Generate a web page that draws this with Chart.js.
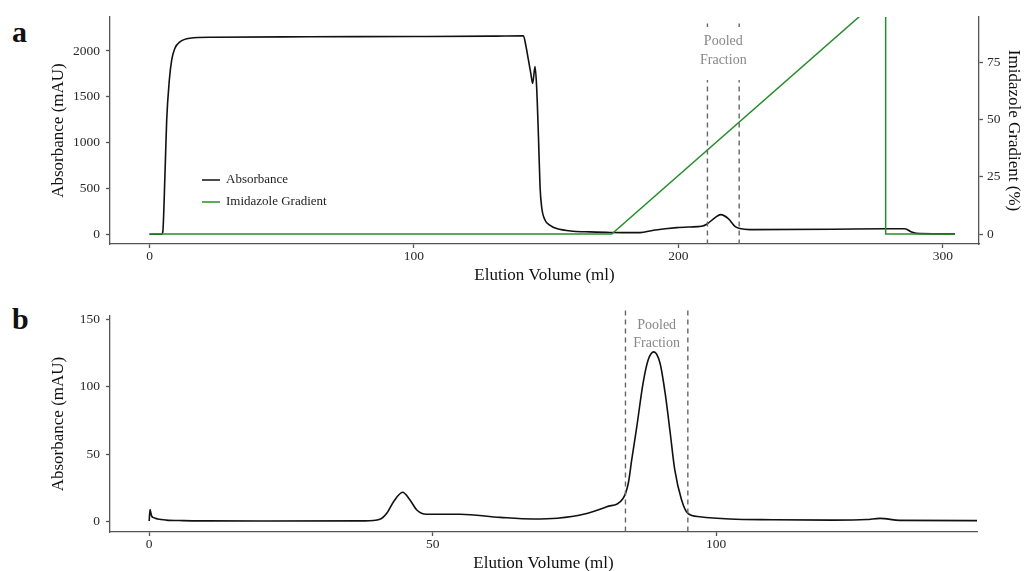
<!DOCTYPE html>
<html>
<head>
<meta charset="utf-8">
<script src="https://cdn.jsdelivr.net/npm/chart.js@4.4.1/dist/chart.umd.min.js"></script>
<style>
    html, body { margin: 0; padding: 0; background: #fff; overflow: hidden; }
    body { width: 1024px; height: 571px; position: relative; }
    .panel { position: absolute; left: 0; width: 1024px; }
    #wrap-a { top: 0; height: 286px; }
    #wrap-b { top: 286px; height: 288px; }
    .tag { position: absolute; font: bold 30px/30px "Liberation Serif", serif; color: #111; }
</style>
</head>
<body>
<div class="tag" style="left:12px;top:17px">a</div>
<div class="tag" style="left:12px;top:304px">b</div>
<div class="panel" id="wrap-a"><canvas id="chart-a"></canvas></div>
<div class="panel" id="wrap-b"><canvas id="chart-b"></canvas></div>
<script>
// panel a: affinity run (absorbance + imidazole gradient)
const volA = [0, 4.6, 5.0, 5.9, 6.5, 7.5, 8.4, 9.6, 11.5, 15.3, 24, 60, 100, 130, 141.4,
    142.4, 143.3, 144.2, 144.9, 145.8, 146.4, 147.1, 147.7, 148.3, 149.6, 151.5, 154.0,
    160.3, 166.6, 174.2, 185.5, 190.6, 199.4, 204.4, 208.8, 210.7, 213.9, 216.0, 218.9,
    221.4, 223.3, 227.1, 258.6, 278.2, 285.7, 288.2, 291.4, 304.6];
const absA = [0, 0, 20, 700, 1246, 1683, 1902, 2030, 2100, 2139, 2150, 2155, 2158, 2162, 2166,
    2047, 1902, 1756, 1647, 1829, 1610, 1063, 517, 298, 153, 98, 62,
    33, 26, 20, 18, 44, 73, 80, 87, 109, 182, 215, 171,
    87, 62, 51, 55, 60, 60, 25, 7, 4];
const gradVol = [0, 174.8, 273.5, 278.4, 278.4, 304.6];
const gradPct = [0, 0, 100, 100, 0, 0];
const poolA = [211, 223];
const xTicksA = [0, 100, 200, 300];
const yTicksA = [0, 500, 1000, 1500, 2000];
const y2TicksA = [0, 25, 50, 75];

// panel b: second run
const volB = [0, 0.15, 0.4, 0.8, 1.5, 3, 6, 10, 20, 38, 40.7, 41.9, 43.1, 44.7, 46.0, 47.2,
    48.9, 54.8, 61.9, 67.7, 72, 76.6, 80.7, 83.6, 84.5, 85.1, 86.0, 87.1, 88.0, 89.0,
    90.1, 91.0, 91.9, 92.7, 93.9, 95.0, 97.1, 102.4, 110, 120.7, 126.5, 128.9, 132.4, 146.8];
const absB = [0.5, 9, 4.5, 3, 2, 1.2, 0.8, 0.6, 0.5, 0.6, 1.8, 6.2, 14.8, 21.8, 16.1, 8.7,
    5.5, 5.5, 3.2, 2.0, 2.6, 5.5, 11.1, 17.4, 28.5, 45.8, 70.5, 102.7, 120, 126,
    117.5, 95.3, 65.6, 38.4, 16.1, 6.2, 3.7, 2.0, 1.5, 1.2, 1.6, 2.5, 1.0, 0.8];
const poolB = [84, 95];
const xTicksB = [0, 50, 100];
const yTicksB = [0, 50, 100, 150];

const SERIF = '"Liberation Serif", serif';
const pts = (xs, ys) => xs.map((x, i) => ({ x, y: ys[i] }));
const fixTicks = list => scale => { scale.ticks = list.map(value => ({ value })); };

function axis(tickPad, extra) {
    return Object.assign({
        type: 'linear',
        border: { display: true, color: '#555', width: 1.3 },
        grid: { display: true, drawOnChartArea: false, drawTicks: true, tickLength: 4, color: '#555', tickWidth: 1.3 },
        ticks: { color: '#2a2a2a', padding: tickPad, font: { family: SERIF, size: 13.5 }, callback: v => String(v) },
    }, extra);
}

function title(text, padding) {
    return { display: true, text, color: '#111', padding, font: { family: SERIF, size: 17 } };
}

// dashed pooled-fraction markers with their label
const pooledPlugin = {
    id: 'pooled',
    afterDatasetsDraw(chart, args, opts) {
        const { ctx, chartArea, scales } = chart;
        const x = scales.x, y = scales.y;
        const xs = opts.range.map(v => x.getPixelForValue(v));
        const top = y.getPixelForValue(opts.top);
        ctx.save();
        ctx.strokeStyle = '#666';
        ctx.lineWidth = 1.4;
        ctx.setLineDash([5, 4]);
        xs.forEach(px => {
            ctx.beginPath();
            ctx.moveTo(px, top);
            ctx.lineTo(px, chartArea.bottom);
            ctx.stroke();
        });
        ctx.setLineDash([]);
        ctx.font = '14px ' + SERIF;
        ctx.textAlign = 'center';
        ctx.textBaseline = 'middle';
        const cx = (xs[0] + xs[1]) / 2;
        if (opts.box) {
            const w = Math.max(...opts.text.map(t => ctx.measureText(t).width)) + 6;
            const b0 = y.getPixelForValue(opts.box[0]);
            const b1 = y.getPixelForValue(opts.box[1]);
            ctx.fillStyle = '#fff';
            ctx.fillRect(cx - w / 2, b0, w, b1 - b0);
        }
        ctx.fillStyle = '#888';
        opts.text.forEach((t, i) => ctx.fillText(t, cx, y.getPixelForValue(opts.labelAt[i])));
        ctx.restore();
    }
};

const innerLegend = {
    id: 'innerLegend',
    afterDraw(chart, args, opts) {
        const { ctx } = chart;
        ctx.save();
        ctx.font = '13px ' + SERIF;
        ctx.textBaseline = 'middle';
        ctx.textAlign = 'left';
        chart.data.datasets.forEach((ds, i) => {
            const yy = opts.y + i * opts.gap;
            ctx.strokeStyle = ds.borderColor;
            ctx.lineWidth = 1.5;
            ctx.beginPath();
            ctx.moveTo(opts.x, yy);
            ctx.lineTo(opts.x + 18, yy);
            ctx.stroke();
            ctx.fillStyle = '#222';
            ctx.fillText(ds.label, opts.x + 24, yy);
        });
        ctx.restore();
    }
};

Chart.defaults.font.family = SERIF;

new Chart(document.getElementById('chart-a'), {
    type: 'line',
    data: {
        datasets: [
            {
                label: 'Absorbance',
                data: pts(volA, absA),
                borderColor: '#111',
                borderWidth: 1.6,
                pointRadius: 0,
                cubicInterpolationMode: 'monotone',
                yAxisID: 'y',
                order: 1
            },
            {
                label: 'Imidazole Gradient',
                data: pts(gradVol, gradPct),
                borderColor: '#23902a',
                borderWidth: 1.5,
                pointRadius: 0,
                tension: 0,
                yAxisID: 'y2',
                order: 0
            }
        ]
    },
    options: {
        responsive: true,
        maintainAspectRatio: false,
        animation: false,
        events: [],
        layout: { padding: { top: 17, left: 0, right: 0, bottom: 0 } },
        plugins: {
            legend: { display: false },
            tooltip: { enabled: false },
            innerLegend: { x: 202, y: 180, gap: 22 },
            pooled: { range: poolA, top: 2300, labelAt: [2102, 1894], box: [2262, 1683], text: ['Pooled', 'Fraction'] }
        },
        scales: {
            x: axis(0, {
                min: -14.94, max: 313.7,
                afterBuildTicks: fixTicks(xTicksA),
                afterFit: s => { s.height = 42; },
                title: title('Elution Volume (ml)', { top: 0, bottom: 0 })
            }),
            y: axis(6, {
                position: 'left',
                min: -106, max: 2371,
                afterBuildTicks: fixTicks(yTicksA),
                afterFit: s => { s.width = 110; },
                title: title('Absorbance (mAU)', { top: 48, bottom: 0 })
            }),
            y2: axis(4, {
                position: 'right',
                min: -4.36, max: 94.7,
                afterBuildTicks: fixTicks(y2TicksA),
                afterFit: s => { s.width = 45; },
                title: title('Imidazole Gradient (%)', { top: 0, bottom: 0 })
            })
        }
    },
    plugins: [pooledPlugin, innerLegend]
});

new Chart(document.getElementById('chart-b'), {
    type: 'line',
    data: {
        datasets: [{
            label: 'Absorbance',
            data: pts(volB, absB),
            borderColor: '#111',
            borderWidth: 1.6,
            pointRadius: 0,
            cubicInterpolationMode: 'monotone'
        }]
    },
    options: {
        responsive: true,
        maintainAspectRatio: false,
        animation: false,
        events: [],
        layout: { padding: { top: 30, left: 0, right: 47, bottom: 0 } },
        plugins: {
            legend: { display: false },
            tooltip: { enabled: false },
            pooled: { range: poolB, top: 156.7, labelAt: [146, 132], text: ['Pooled', 'Fraction'] }
        },
        scales: {
            x: axis(0, {
                min: -6.91, max: 146.0,
                afterBuildTicks: fixTicks(xTicksB),
                afterFit: s => { s.height = 42; },
                title: title('Elution Volume (ml)', { top: 0, bottom: 0 })
            }),
            y: axis(6, {
                position: 'left',
                min: -7.64, max: 152.6,
                afterBuildTicks: fixTicks(yTicksB),
                afterFit: s => { s.width = 110; },
                title: title('Absorbance (mAU)', { top: 48, bottom: 0 })
            })
        }
    },
    plugins: [pooledPlugin]
});
</script>
</body>
</html>
